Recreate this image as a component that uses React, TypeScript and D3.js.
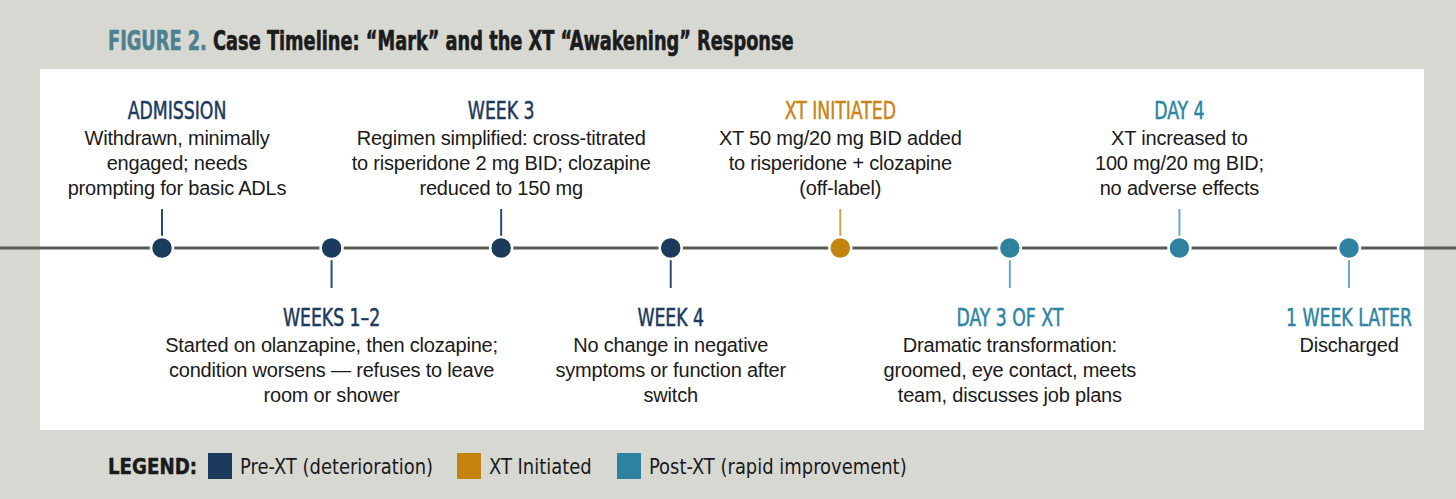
import * as d3 from "d3";

const events = ["ADMISSION", "WEEKS 1–2", "WEEK 3", "WEEK 4", "XT INITIATED", "DAY 3 OF XT", "DAY 4", "1 WEEK LATER"];
const phases = ["pre", "pre", "pre", "pre", "xt", "post", "post", "post"];
const details = [
  ["Withdrawn, minimally", "engaged; needs", "prompting for basic ADLs"],
  ["Started on olanzapine, then clozapine;", "condition worsens — refuses to leave", "room or shower"],
  ["Regimen simplified: cross-titrated", "to risperidone 2 mg BID; clozapine", "reduced to 150 mg"],
  ["No change in negative", "symptoms or function after", "switch"],
  ["XT 50 mg/20 mg BID added", "to risperidone + clozapine", "(off-label)"],
  ["Dramatic transformation:", "groomed, eye contact, meets", "team, discusses job plans"],
  ["XT increased to", "100 mg/20 mg BID;", "no adverse effects"],
  ["Discharged"],
];
const legendKeys = ["pre", "xt", "post"];
const legendLabels = ["Pre-XT (deterioration)", "XT Initiated", "Post-XT (rapid improvement)"];

const W = 1456;
const H = 499;
const lineY = 248;
const narrow = "'DejaVu Sans Condensed', 'Liberation Sans Narrow', sans-serif";
const sans = "'Liberation Sans', Arial, Helvetica, sans-serif";

const color = d3.scaleOrdinal<string, string>().domain(["pre", "xt", "post"]).range(["#1b3a5c", "#c4820f", "#2e82a0"]);
const stemColor = d3.scaleOrdinal<string, string>().domain(["pre", "xt", "post"]).range(["#2a4a6e", "#d9a04a", "#6aaac2"]);
const headColor = d3.scaleOrdinal<string, string>().domain(["pre", "xt", "post"]).range(["#1b3a5e", "#c98516", "#2d85a3"]);

export default function App() {
  const x = d3.scalePoint<string>().domain(events).range([162, 1349]);

  return (
    <svg width={W} height={H} style={{ position: "absolute", left: 0, top: 0 }}>
      <rect width={W} height={H} fill="#d8d8d3" />
      <rect x={40} y={69} width={1384} height={361} fill="#ffffff" />

      {/* title, squeezed to match the condensed face */}
      <text
        transform="translate(108,50) scale(0.76,1)"
        fontFamily={narrow}
        fontWeight="bold"
        fontSize={26}
        fill="#1c1c1c"
        stroke="#1c1c1c"
        strokeWidth={0.6}
      >
        <tspan fill="#4b8290" stroke="#4b8290">FIGURE 2.</tspan>
        <tspan> Case Timeline: “Mark” and the XT “Awakening” Response</tspan>
      </text>

      {/* axis line */}
      <line x1={0} x2={W} y1={lineY} y2={lineY} stroke="#5a5b53" strokeWidth={3} />

      {events.map((ev, i) => {
        const cx = x(ev)!;
        const up = i % 2 === 0;
        const ph = phases[i];
        const lines = details[i];
        const headY = up ? 119 : 326;
        const tx = i === 0 ? cx + 15 : cx;
        return (
          <g key={ev}>
            <line x1={cx} x2={cx} y1={lineY} y2={up ? 209 : 288} stroke={stemColor(ph)} strokeWidth={2} />
            <circle cx={cx} cy={lineY} r={11} fill={color(ph)} stroke="#ffffff" strokeWidth={2.5} />
            <text
              transform={`translate(${tx},${headY}) scale(0.8,1)`}
              textAnchor="middle"
              fontFamily={narrow}
              fontSize={24}
              fill={headColor(ph)}
              stroke={headColor(ph)}
              strokeWidth={0.5}
            >
              {ev}
            </text>
            {lines.map((ln, j) => (
              <text
                key={j}
                x={tx}
                y={headY + 26 + j * 25}
                textAnchor="middle"
                fontFamily={sans}
                fontSize={20}
                letterSpacing={-0.2}
                fill="#1a1a1a"
              >
                {ln}
              </text>
            ))}
          </g>
        );
      })}

      {/* legend */}
      <text
        transform="translate(108,474) scale(0.92,1)"
        fontFamily={narrow}
        fontWeight="bold"
        fontSize={22}
        fill="#1a1a1a"
        stroke="#1a1a1a"
        strokeWidth={0.5}
      >
        LEGEND:
      </text>
      {legendKeys.map((k, i) => {
        const lx = [208, 457, 617][i];
        return (
          <g key={k}>
            <rect x={lx} y={453} width={24} height={26} fill={color(k)} />
            <text transform={`translate(${lx + 32},474) scale(0.95,1)`} fontFamily={narrow} fontSize={21} fill="#1a1a1a">
              {legendLabels[i]}
            </text>
          </g>
        );
      })}
    </svg>
  );
}
